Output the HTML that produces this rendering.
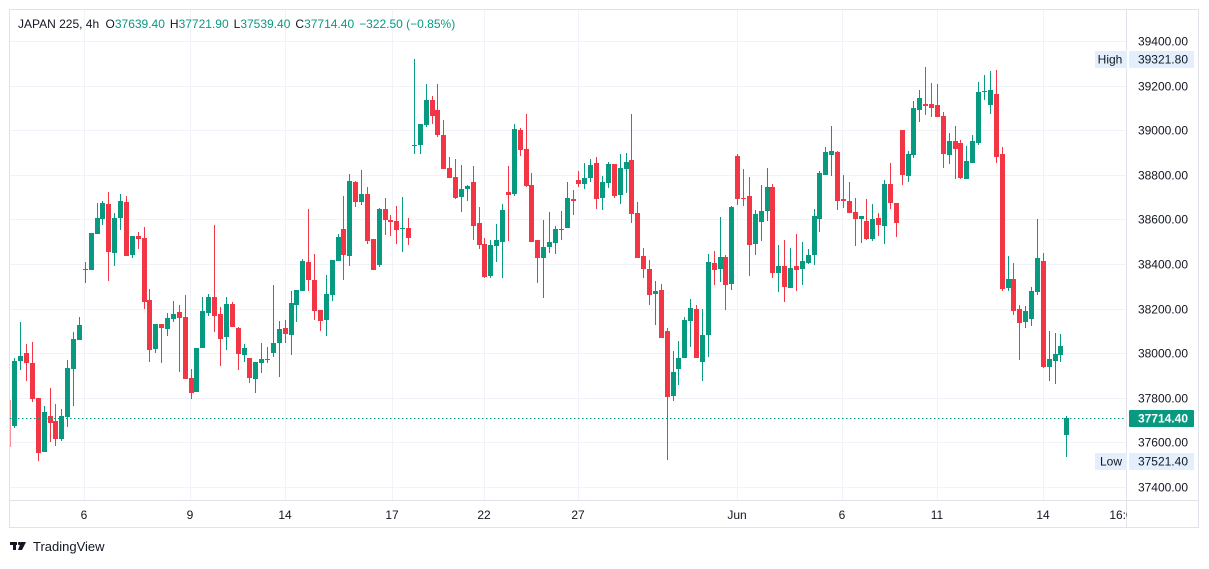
<!DOCTYPE html>
<html><head><meta charset="utf-8"><style>
body{margin:0;background:#fff;width:1209px;height:564px;overflow:hidden;font-family:"Liberation Sans",sans-serif}
svg text{font-family:"Liberation Sans",sans-serif}
</style></head><body>
<svg id="s" width="1209" height="564" viewBox="0 0 1209 564" xmlns="http://www.w3.org/2000/svg">
<rect x="9.5" y="9.5" width="1189" height="518" fill="#fff" stroke="#e0e3eb"/>
<g id="grid" stroke="#f0f3fa" stroke-width="1"></g>
<line x1="10" y1="500.5" x2="1198" y2="500.5" stroke="#e0e3eb"/>
<line x1="1126.5" y1="10" x2="1126.5" y2="527" stroke="#e0e3eb"/>
<g id="c"></g>
<line x1="10" y1="418.5" x2="1126" y2="418.5" stroke="#089981" stroke-dasharray="1.5,2.5"/>
<g font-size="12" fill="#131722" text-anchor="end" id="pl"></g>
<rect x="1095" y="51" width="32" height="17" fill="#e3effd"/>
<rect x="1129" y="51" width="65" height="17" fill="#e3effd"/>
<text x="1110" y="63.5" font-size="12" fill="#131722" text-anchor="middle">High</text>
<text x="1188" y="63.5" font-size="12" fill="#131722" text-anchor="end">39321.80</text>
<rect x="1095" y="453" width="32" height="17" fill="#e3effd"/>
<rect x="1129" y="453" width="65" height="17" fill="#e3effd"/>
<text x="1111" y="465.5" font-size="12" fill="#131722" text-anchor="middle">Low</text>
<text x="1188" y="465.5" font-size="12" fill="#131722" text-anchor="end">37521.40</text>
<rect x="1129" y="410" width="65" height="17" rx="1" fill="#089981"/>
<text x="1188" y="422.5" font-size="12" font-weight="bold" fill="#fff" text-anchor="end">37714.40</text>
<g font-size="12" fill="#131722" text-anchor="middle">
<text x="84" y="519">6</text><text x="190" y="519">9</text><text x="285" y="519">14</text>
<text x="392" y="519">17</text><text x="484" y="519">22</text><text x="578" y="519">27</text>
<text x="737" y="519">Jun</text><text x="842" y="519">6</text><text x="937" y="519">11</text>
<text x="1043" y="519">14</text><text x="1121" y="519">16:0</text>
</g>
<rect x="1127" y="505" width="70" height="20" fill="#fff"/>
<text x="18" y="28" font-size="12" fill="#131722">JAPAN 225, 4h <tspan dx="3">O</tspan><tspan fill="#089981">37639.40</tspan><tspan dx="5">H</tspan><tspan fill="#089981">37721.90</tspan><tspan dx="5">L</tspan><tspan fill="#089981">37539.40</tspan><tspan dx="5">C</tspan><tspan fill="#089981">37714.40</tspan><tspan dx="5" fill="#089981">−322.50 (−0.85%)</tspan></text>
<g fill="#131722"><rect x="10" y="542" width="7" height="3"/><rect x="13" y="542" width="3" height="8"/><circle cx="19.5" cy="543.5" r="1.6"/><polygon points="21,542 26,542 22,550 18,550"/></g>
<text x="33" y="551" font-size="13" fill="#131722">TradingView</text>
</svg>
<script>
var NS="http://www.w3.org/2000/svg";
function el(p,t,a){var e=document.createElementNS(NS,t);for(var k in a)e.setAttribute(k,a[k]);p.appendChild(e);return e;}
var g=document.getElementById('grid');
var prices=[39400,39200,39000,38800,38600,38400,38200,38000,37800,37600,37400];
var pl=document.getElementById('pl');
prices.forEach(function(p){var y=41+(39400-p)*0.223;y=Math.round(y)+0.5;
 el(g,'line',{x1:10,x2:1126,y1:y,y2:y});
 var t=el(pl,'text',{x:1188,y:y+4});t.textContent=p.toFixed(2);});
[84,190,285,392,484,578,737,842,937,1043].forEach(function(x){el(g,'line',{x1:x+.5,x2:x+.5,y1:10,y2:500});});
var D="r 400 447 400 447|g 361 426 358 428|g 356 361 322 370|r 353 363 344 381|r 363 399 342 402|r 398 453 398 461|g 412 452 406 452|r 416 423 388 442|r 421 439 404 446|g 416 439 409 441|g 368 417 360 427|g 339 369 332 406|g 325 340 317 340|g 269 270 262 283|g 233 270 233 270|g 218 234 203 234|g 203 219 201 225|r 204 252 192 281|g 218 253 213 266|g 201 218 194 230|r 202 256 196 256|g 236 255 236 258|r 236 239 232 249|r 238 302 227 309|r 300 350 289 362|g 324 349 324 353|r 324 328 324 363|g 318 329 313 336|g 314 319 301 322|r 312 318 305 372|r 317 379 295 379|r 378 393 369 399|g 348 392 348 392|g 311 348 297 348|g 297 313 294 316|r 297 316 225 332|r 314 339 307 366|g 304 337 297 350|r 304 327 302 327|r 328 354 327 370|g 348 355 344 362|r 358 378 358 383|g 362 379 362 393|g 359 363 343 373|g 359 359 347 363|g 343 353 285 357|g 329 343 321 377|r 328 334 320 343|g 303 335 291 355|g 290 305 290 322|g 261 291 259 291|r 262 280 209 291|r 280 311 254 320|r 310 321 310 331|g 294 320 275 336|g 260 295 260 301|g 237 261 234 261|r 229 255 196 280|g 181 256 174 266|r 182 202 181 207|g 194 202 170 205|r 194 241 187 244|r 239 270 239 270|g 209 265 208 267|r 209 220 198 235|r 220 222 215 236|r 221 230 206 244|g 228 228 197 252|r 228 238 218 245|g 145 145 59 154|g 124 145 124 154|g 100 125 84 127|r 100 116 96 124|r 110 135 84 137|r 135 169 120 169|r 168 178 157 178|r 177 198 159 199|g 189 197 165 212|g 186 189 185 201|r 182 226 166 240|r 223 245 207 249|r 244 277 238 278|g 245 276 240 278|g 240 246 224 262|g 210 242 204 278|r 192 195 166 241|g 129 194 124 196|r 130 150 128 156|r 149 186 114 187|r 185 242 173 242|r 240 258 240 283|g 247 258 220 298|g 242 247 212 253|g 229 243 226 254|g 229 230 211 240|g 198 228 182 228|r 199 201 190 215|r 180 184 171 187|g 178 184 163 189|g 165 178 159 182|r 163 199 157 209|g 182 198 176 210|g 164 183 162 188|r 164 196 164 198|g 168 195 154 204|g 162 169 153 193|r 160 214 114 223|r 213 258 202 258|r 256 269 248 278|r 269 295 260 305|g 291 294 281 325|r 290 338 284 338|r 331 397 328 460|g 372 396 351 401|g 358 369 341 385|g 320 358 317 358|g 308 321 299 347|r 309 358 305 358|g 335 362 309 381|g 262 335 254 357|r 263 270 251 285|g 257 269 217 282|r 257 285 255 310|g 207 284 206 290|r 156 199 154 205|r 198 199 169 206|r 196 245 177 276|g 214 244 210 255|g 211 222 185 241|g 187 211 168 221|r 187 273 184 278|g 266 273 245 292|r 266 287 240 302|g 268 288 248 288|r 266 270 234 291|g 261 269 242 285|g 255 263 249 264|g 216 255 209 265|g 173 219 171 232|g 152 175 147 175|g 151 155 126 176|r 152 201 151 210|r 199 201 175 208|r 201 213 182 213|r 212 219 198 246|g 216 219 216 243|r 221 239 199 240|g 219 239 204 241|r 218 225 213 236|g 184 226 180 244|r 184 203 163 209|r 203 223 203 237|r 130 175 130 185|g 154 176 151 182|g 108 155 101 158|g 98 110 90 122|r 104 106 67 115|r 104 108 83 117|r 105 117 84 117|r 116 154 112 168|g 141 155 133 164|r 141 149 126 179|r 143 178 140 179|g 161 179 146 179|g 141 163 135 163|g 92 143 82 145|g 91 92 75 100|g 90 105 71 114|r 94 157 70 163|r 154 289 147 291|g 279 288 256 291|r 279 311 263 315|r 309 323 305 360|g 311 322 306 328|g 291 319 287 326|g 258 292 219 295|r 261 367 253 368|g 359 367 331 381|g 354 361 333 384|g 346 355 334 362|g 418 435 416 457";
var c=document.getElementById('c');
D.split('|').forEach(function(s,i){var a=s.split(' ');var col=a[0]=='g'?'#089981':'#f23645';
 var bt=+a[1],bb=+a[2],wt=+a[3],wb=+a[4];
 var x=Math.round(14.3+(i-1)*5.877);
 var op=i==0?0.55:1;
 if(i==0){el(c,'rect',{x:10,y:bt,width:1,height:bb-bt,fill:col,opacity:op});return;}
 el(c,'rect',{x:x,y:wt,width:1,height:Math.max(1,wb-wt),fill:col});
 el(c,'rect',{x:x-2,y:bt,width:5,height:Math.max(1,bb-bt),fill:col});
});
</script>
</body></html>
